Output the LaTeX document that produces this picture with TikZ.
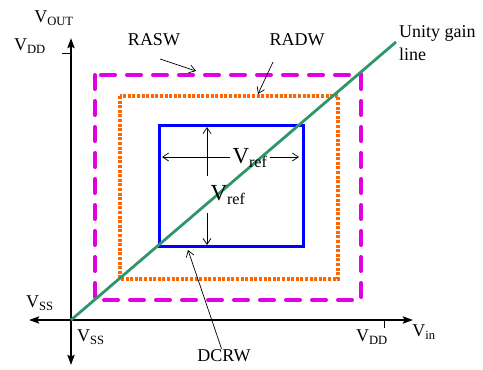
\documentclass[tikz,border=0pt]{standalone}
\usepackage{fontspec}
\setmainfont{Liberation Serif}
\usepackage{xcolor}
\usepackage{tikz}
\usetikzlibrary{arrows.meta, calc}

\definecolor{rasw}{RGB}{224,0,224}
\definecolor{radw}{RGB}{255,102,0}
\definecolor{unity}{RGB}{46,150,104}
\newcommand{\volt}[1]{V\textsubscript{#1}}

\begin{document}
\begin{tikzpicture}[
    x=1pt, y=-1pt,
    lbl/.style={inner sep=1pt, font=\fontsize{18}{23}\selectfont},
    bigvref/.style={inner sep=2pt, font=\fontsize{23}{26}\selectfont},
    axis/.style={<->, >={Stealth[length=10pt, width=7pt, inset=1.5pt]}, line width=2.2pt},
    tick/.style={line width=1pt},
    ptr/.style={-{Straight Barb[length=6pt, width=8pt]}, line width=0.7pt},
    box_sw/.style={draw=rasw, line width=4pt, line cap=round, dash pattern=on 14pt off 12pt},
    box_dw/.style={draw=radw, line width=3.2pt, dash pattern=on 3pt off 1.6pt},
    box_cr/.style={draw=blue, line width=3pt}
]
    \useasboundingbox (0,0) rectangle (483,370);

    % Axes
    \coordinate (O) at (71,320);
    \coordinate (ytop) at (71,38);
    \coordinate (ybot) at (71,365);
    \coordinate (xleft) at (29,320);
    \coordinate (xright) at (413,320);
    \draw[axis] (ybot) -- (ytop);
    \draw[axis] (xleft) -- (xright);
    \draw[tick] (62,53) -- (71,53);
    \draw[tick] (384,320) -- (384,328);

    % Windows
    \draw[box_sw] (95,75) rectangle (361,300);
    \draw[box_dw] (120,96) rectangle (338,279);
    \draw[box_cr] (159,125) rectangle (303,246);
    \coordinate (ugend) at (396,42);
    \draw[unity, line width=2.8pt] (O) -- (ugend);

    % Nodes
    \node[lbl] (vout) at (54,18) {\volt{OUT}};
    \node[lbl] (vddy) at (30,46) {\volt{DD}};
    \node[lbl] (vssy) at (40,303) {\volt{SS}};
    \node[lbl] (vssx) at (91,337) {\volt{SS}};
    \node[lbl] (vddx) at (372,337) {\volt{DD}};
    \node[lbl] (vin) at (424,332) {\volt{in}};
    \node[lbl] (rasw) at (154,40) {RASW};
    \node[lbl] (radw) at (297,40) {RADW};
    \node[lbl] (dcrw) at (224,356) {DCRW};
    \node[lbl, align=left, anchor=north west] (ugl) at (398,24) {Unity gain\\line};
    \node[bigvref] (vrefh) at (250,158) {\volt{ref}};
    \node[bigvref] (vrefv) at (228,195) {\volt{ref}};

    % Arrows
    \coordinate (raswtail) at (160,59);
    \coordinate (raswtip) at (196,71);
    \coordinate (radwtail) at (273,62);
    \coordinate (radwtip) at (258,94);
    \coordinate (dcrwtip) at (188,250);
    \draw[ptr] (raswtail) -- (raswtip);
    \draw[ptr] (radwtail) -- (radwtip);
    \draw[ptr] (dcrw) -- (dcrwtip);

    \coordinate (hl) at (162,157);
    \coordinate (hr) at (299,157);
    \coordinate (vgt) at (207,176);
    \coordinate (vgb) at (207,213);
    \coordinate (vt) at (207,127);
    \coordinate (vb) at (207,245);
    \draw[ptr] (vrefh.west |- hl) -- (hl);
    \draw[ptr] (vrefh.east |- hr) -- (hr);
    \draw[ptr] (vgt) -- (vt);
    \draw[ptr] (vgb) -- (vb);
\end{tikzpicture}
\end{document}
